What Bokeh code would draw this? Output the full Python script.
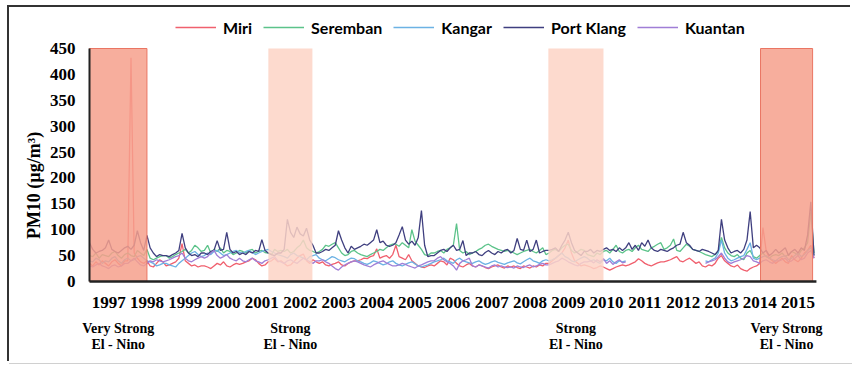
import numpy as np
from bokeh.plotting import figure
from bokeh.models import Range1d, FixedTicker, Legend, LegendItem, LabelSet, ColumnDataSource
from bokeh.core.properties import value
from bokeh.embed import file_html
from bokeh.resources import INLINE

NA = float("nan")

# ---------------- data (monthly PM10, Jan 1997 - Dec 2015) ----------------
years = list(range(1997, 2016))
year_labels = [str(y) for y in years]

miri = [
    35, 30, 38, 32, 40, 35, 30, 38, 42, 35, 30, 40,
    40, 432, 55, 45, 38, 35, 40, 30, 28, 35, 42, 38,
    30, 32, 35, 38, 45, 73, 40, 35, 30, 32, 28, 30,
    30, 28, 25, 30, 35, 32, 38, 30, 28, 32, 35, 33,
    35, 38, 40, 45, 42, 35, 30, 32, 38, 40, 45, 38,
    40, 35, 30, 32, 38, 45, 50, 53, 40, 35, 42, 38,
    35, 38, 32, 30, 33, 35, 38, 32, 30, 35, 38, 40,
    40, 42, 45, 44, 48, 50, 63, 45, 48, 50, 45, 52,
    70, 48, 45, 42, 52, 40, 35, 30, 28, 27, 30, 32,
    30, 35, 40, 38, 32, 45, 42, 35, 30, 28, 32, 35,
    30, 28, 32, 30, 27, 25, 28, 30, 32, 28, 26, 30,
    28, 30, 27, 25, 30, 28, 26, 30, 28, 32, 30, 35,
    35, 40, 45, 50, 55, 65, 80, 55, 40, 35, 30, 32,
    30, 28, 25, 27, 30, 28, 25, 22, 25, 28, 30, 32,
    30, 32, 35, 38, 44, 40, 35, 32, 30, 33, 36, 38,
    38, 40, 42, 45, 48, 40, 38, 42, 45, 40, 35, 38,
    30, 28, 32, 30, 35, 45, 50, 40, 35, 30, 28, 32,
    25, 22, 20, 25, 28, 30, 35, 104, 60, 45, 40, 35,
    40, 45, 38, 35, 50, 42, 38, 45, 55, 60, 70, 45,
]

seremban = [
    50, 48, 55, 45, 52, 50, 48, 55, 58, 50, 45, 52,
    55, 50, 48, 60, 55, 50, 62, 45, 42, 45, 48, 50,
    50, 45, 48, 52, 55, 58, 62, 55, 60, 70, 65, 58,
    60, 70, 55, 62, 58, 65, 55, 60, 58, 52, 55, 60,
    58, 55, 60, 62, 55, 58, 60, 56, 55, 52, 62, 58,
    60, 58, 62, 55, 58, 65, 70, 80, 65, 60, 58, 55,
    58, 62, 70, 68, 72, 75, 65, 55, 50, 52, 58, 60,
    55, 52, 50, 48, 52, 55, 58, 62, 60, 65, 70, 72,
    72, 68, 75, 70, 65, 100, 78, 70, 62, 52, 50, 55,
    55, 58, 60, 55, 62, 65, 70, 112, 60, 55, 58, 52,
    55, 58, 62, 65, 70, 72, 68, 65, 62, 60, 58, 60,
    58, 55, 52, 55, 58, 60, 62, 58, 55, 60, 65, 52,
    55, 60, 62, 58, 65, 70, 72, 60, 55, 58, 62, 60,
    52, 50, 48, 55, 52, 58, 60, 55, 62, 70, 58, 55,
    60, 62, 58, 65, 70, 62, 60, 58, 65, 68, 72, 75,
    62, 65, 70, 82, 60, 58, 65, 72, 68, 62, 60, 58,
    55, 52, 50, 48, 52, 58, 85, 65, 55, 50, 48, 52,
    45, 42, 55, 60, 48, 45, 50, 55, 48, 45, 50, 52,
    50, 55, 48, 52, 58, 55, 50, 60, 65, 75, 135, 55,
]

kangar = [
    40, 38, 45, 42, 35, 40, 38, 45, 48, 40, 35, 42,
    45, 40, 42, 48, 50, 45, 40, 38, 35, 30, 32, 35,
    35, 32, 30, 28, 35, 40, 45, 50, 55, 58, 52, 48,
    50, 55, 52, 58, 60, 55, 50, 52, 55, 58, 60, 56,
    55, 58, 60, 56, 52, 55, 58, 60, 62, 58, 55, 52,
    50, 48, 45, 52, 55, 50, 48, 45, 42, 48, 50, 52,
    45, 42, 40, 44, 48, 46, 42, 40, 38, 42, 45, 44,
    40, 38, 35, 33, 36, 40, 38, 35, 32, 34, 38, 40,
    35, 32, 30, 33, 36, 38, 34, 30, 28, 30, 32, 35,
    38, 40, 42, 45, 40, 38, 35, 42, 45, 40, 38, 36,
    35, 38, 40, 36, 33, 35, 38, 40, 37, 35, 33, 36,
    38, 40, 36, 34, 38, 42, 45, 40, 38, 35, 40, 42,
    40, 42, 45, 50, 55, 48, 45, 40, 38, 42, 45, 48,
    45, 40, 42, 38, 35, 42, 40, 45, 38, 35, 40, 38,
    40, NA, NA, NA, NA, NA, NA, NA, NA, NA, NA, NA,
    NA, NA, NA, NA, NA, NA, NA, NA, NA, NA, NA, NA,
    NA, 40, 38, 42, 45, 55, 80, 55, 45, 40, 42, 45,
    48, 50, 62, 75, 45, 42, 45, 48, 50, 45, 42, 40,
    45, 48, 50, 42, 45, 50, 55, 48, 52, 60, 65, 50,
]

port_klang = [
    75, 62, 55, 58, 60, 65, 80, 62, 58, 55, 60, 65,
    68, 62, 70, 98, 75, 60, 89, 65, 55, 48, 52, 50,
    50, 48, 52, 55, 60, 93, 65, 55, 50, 52, 48, 55,
    55, 52, 58, 60, 79, 60, 62, 95, 62, 55, 58, 52,
    55, 52, 58, 55, 60, 58, 81, 60, 55, 52, 50, 55,
    55, 62, 120, 95, 85, 105, 92, 88, 103, 80, 70, 55,
    55, 58, 62, 60, 65, 70, 98, 80, 65, 55, 68, 62,
    65, 68, 72, 70, 75, 80, 100, 75, 78, 70, 68, 70,
    75, 90, 106, 80, 72, 78, 70, 85, 137, 70, 48, 50,
    50, 55, 60, 62, 58, 65, 70, 60, 62, 79, 50, 55,
    55, 58, 52, 50, 56, 60, 55, 52, 58, 55, 60, 62,
    55, 60, 83, 62, 60, 80, 58, 62, 80, 55, 58, 60,
    60, 62, 65, 58, 70, 80, 95, 75, 60, 55, 50, 58,
    58, 62, 55, 60, 58, 62, 65, 60, 62, 58, 65, 60,
    65, 75, 62, 70, 60, 75, 68, 80, 65, 60, 58, 62,
    60, 58, 62, 65, 70, 72, 95, 75, 70, 62, 60, 58,
    62, 60, 58, 55, 52, 60, 120, 80, 65, 55, 58, 60,
    55, 62, 80, 135, 65, 70, 65, 55, 60, 50, 55, 62,
    55, 60, 65, 50, 58, 62, 55, 65, 60, 90, 154, 50,
]

kuantan = [
    30, 28, 32, 35, 30, 28, 25, 30, 32, 28, 30, 35,
    35, 40, 45, 38, 32, 30, 35, 40, 38, 42, 40, 38,
    40, 42, 45, 48, 50, 55, 45, 40, 38, 42, 45, 48,
    45, 48, 55, 60, 50, 45, 48, 52, 45, 42, 40, 45,
    40, 38, 42, 45, 40, 38, 35, 40, 42, 45, 48, 40,
    38, 35, 40, 42, 38, 35, 40, 45, 42, 38, 35, 40,
    40, 42, 38, 35, 30, 25, 22, 28, 32, 35, 38, 40,
    38, 35, 32, 30, 28, 32, 35, 38, 40, 36, 33, 30,
    30, 32, 35, 33, 30, 28, 26, 30, 32, 35, 38, 40,
    40, 45, 48, 42, 38, 35, 30, 22, 35, 40, 42, 45,
    30, 28, 32, 30, 28, 26, 30, 32, 28, 30, 28, 27,
    28, 26, 30, 28, 27, 30, 32, 28, 30, 33, 35, 32,
    32, 35, 38, 40, 45, 42, 38, 35, 32, 30, 35, 38,
    38, 40, 36, 42, 38, 44, 35, 40, 33, 38, 42, 36,
    38, NA, NA, NA, NA, NA, NA, NA, NA, NA, NA, NA,
    NA, NA, NA, NA, NA, NA, NA, NA, NA, NA, NA, NA,
    NA, 35, 38, 40, 42, 48, 55, 45, 38, 35, 38, 40,
    42, 45, 50, 48, 40, 38, 35, 40, 42, 38, 35, 40,
    40, 42, 45, 38, 40, 45, 50, 42, 45, 55, 60, 45,
]

series_names = ["Miri", "Seremban", "Kangar", "Port Klang", "Kuantan"]
series_values = [miri, seremban, kangar, port_klang, kuantan]
series_colors = ["#f0606e", "#5cc38a", "#6cb2e4", "#3f3f7f", "#a07ed6"]

# El Nino periods (fractional years)
el_nino_start = [1997.0, 2001.67, 2008.98, 2014.52]
el_nino_end = [1998.5, 2002.82, 2010.42, 2015.88]
el_nino_strength = ["Very Strong", "Strong", "Strong", "Very Strong"]

y_ticks = list(range(0, 451, 50))

# ---------------- figure ----------------
n = len(miri)
for s in series_values:
    assert len(s) == n
x = [years[0] + i / 12 for i in range(n)]

PX_PER_YEAR = 38.3
PX_PER_UNIT = 233 / 450
FIG_L, FIG_T = 9, 7            # page position of the figure
FIG_W, FIG_H = 843, 356
AXIS_X = 89                    # page x of the y axis line (value year 1997)
FRAME_X = 80                   # page x where the plotting frame begins
LEFT = FRAME_X - FIG_L
ZERO_Y = 281                   # page y of value 0
x_start = years[0] - (AXIS_X - FRAME_X) / PX_PER_YEAR
x_end = x_start + (FIG_W - LEFT) / PX_PER_YEAR
y_top = (ZERO_Y - FIG_T) / PX_PER_UNIT
y_bot = (ZERO_Y - (FIG_T + FIG_H)) / PX_PER_UNIT


def val_at(page_y):
    return (ZERO_Y - page_y) / PX_PER_UNIT


p = figure(width=FIG_W, height=FIG_H, output_backend="svg", toolbar_location=None,
           x_range=Range1d(x_start, x_end), y_range=Range1d(y_bot, y_top),
           x_axis_location=None, min_border_left=LEFT, min_border_right=0,
           min_border_top=0, min_border_bottom=0)
p.outline_line_color = None
p.xgrid.visible = False
p.ygrid.visible = False
p.background_fill_color = "white"
p.border_fill_color = "white"
p.styles = {"margin-left": f"{FIG_L}px", "margin-top": f"{FIG_T}px",
            "box-shadow": "-2px -2px 0 0 #333, 0 1px 0 0 #d0d0d0"}

ax = p.yaxis[0]
ax.ticker = FixedTicker(ticks=y_ticks)
ax.axis_line_color = None
ax.major_tick_line_color = None
ax.minor_tick_line_color = None
ax.major_tick_out = 0
ax.major_tick_in = 0
ax.major_label_standoff = 5
ax.major_label_text_font = "Liberation Serif"
ax.major_label_text_font_style = "bold"
ax.major_label_text_font_size = "17px"
ax.major_label_text_color = "black"
ax.axis_label = "PM10 (µg/m³)"
ax.axis_label_text_font = "Liberation Serif"
ax.axis_label_text_font_style = "bold"
ax.axis_label_text_font_size = "18px"
ax.axis_label_text_color = "black"
ax.axis_label_standoff = 3

renderers = []
for name, vals, col in zip(series_names, series_values, series_colors):
    r = p.line(x, vals, line_color=col, line_width=1.3)
    renderers.append(r)

# El Nino shading (drawn over the lines)
very = [s == "Very Strong" for s in el_nino_strength]
dl = [a for a, v in zip(el_nino_start, very) if v]
dr = [b for b, v in zip(el_nino_end, very) if v]
ll = [a for a, v in zip(el_nino_start, very) if not v]
lr = [b for b, v in zip(el_nino_end, very) if not v]
p.quad(left=dl, right=dr, bottom=0, top=450, fill_color="#f6a08c", fill_alpha=0.85,
       line_color="#ea7563", line_width=1)
p.quad(left=ll, right=lr, bottom=0, top=450, fill_color="#fdd3c6", fill_alpha=0.85,
       line_color=None)

# axis lines
p.segment(x0=[years[0]], y0=[0], x1=[years[0]], y1=[450], line_color="#222", line_width=2)
p.segment(x0=[years[0]], y0=[0], x1=[el_nino_end[-1] + 0.1], y1=[0], line_color="#222", line_width=2.5)

# year labels
p.text(x=[y + 0.5 for y in years], y=[val_at(302)] * len(years), text=year_labels,
       text_font=value("Liberation Serif"), text_font_style="bold", text_font_size="17px",
       text_align="center", text_baseline="middle", text_color="black")

# El Nino captions
centers = [(a + b) / 2 for a, b in zip(el_nino_start, el_nino_end)]
cap_src = ColumnDataSource(dict(x=centers, y1=[val_at(328)] * 4, y2=[val_at(344)] * 4,
                                t1=el_nino_strength, t2=["El - Nino"] * 4))
for ycol, tcol in (("y1", "t1"), ("y2", "t2")):
    p.add_layout(LabelSet(x="x", y=ycol, text=tcol, source=cap_src,
                          text_font="Liberation Serif", text_font_style="bold",
                          text_font_size="14px", text_align="center",
                          text_baseline="middle", text_color="black"))

legend = Legend(items=[LegendItem(label=nm, renderers=[r]) for nm, r in zip(series_names, renderers)],
                orientation="horizontal", location=(175 - FRAME_X, FIG_H - (37 - FIG_T)),
                padding=0, spacing=11,
                glyph_width=41, glyph_height=20, label_height=20, label_standoff=7,
                label_text_font="Lato", label_text_font_style="bold",
                label_text_font_size="16px", label_text_color="black",
                border_line_color=None, background_fill_alpha=0)
p.add_layout(legend)

open("out.html", "w").write(file_html(p, INLINE))
